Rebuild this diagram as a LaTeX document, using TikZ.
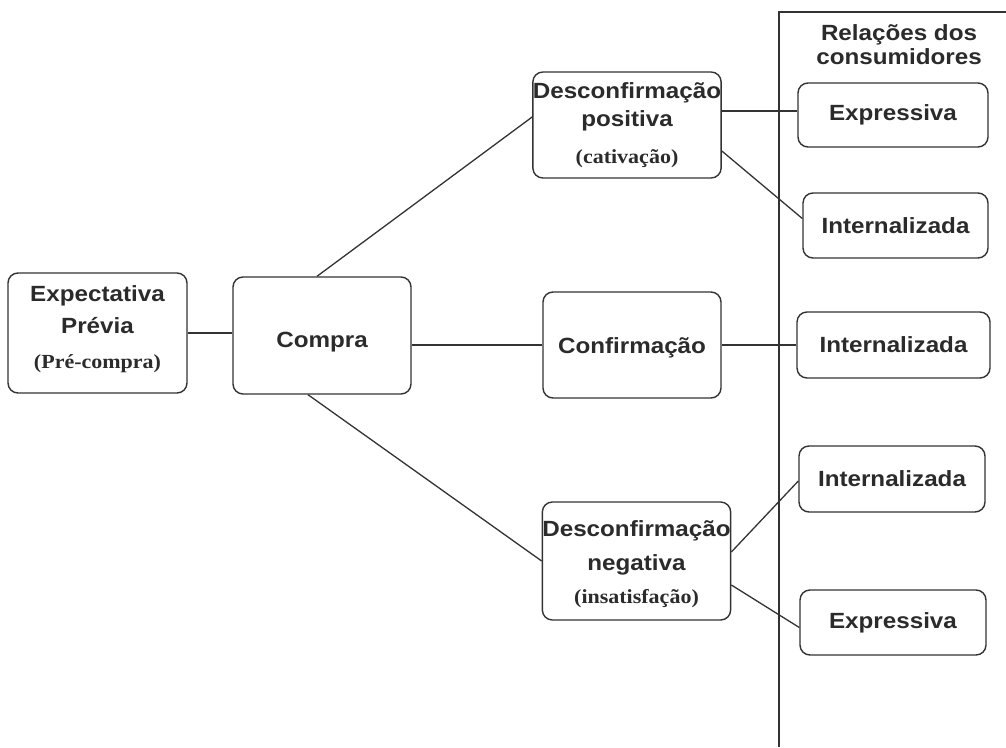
\documentclass[tikz,border=0pt]{standalone}
\usepackage{fontspec}
\setmainfont{Liberation Serif}
\newfontfamily\hv[FakeStretch=1.1]{Liberation Sans}
\newfontfamily\tm[FakeStretch=1.1]{Liberation Serif}
\definecolor{ink}{HTML}{333333}
\definecolor{txt}{HTML}{2B2B2B}
\newcommand{\sa}{\hv\bfseries\fontsize{22}{26}\selectfont}
\newcommand{\se}{\tm\bfseries\fontsize{20}{23}\selectfont}
\newcommand{\stk}[2]{\raisebox{#1}[0pt][0pt]{\begin{tabular}[t]{@{}c@{}}#2\end{tabular}}}
\newcommand{\one}[2]{\raisebox{#1}[0pt][0pt]{#2}}
\tikzset{
  box/.style={draw=ink, line width=1.4pt, rounded corners=10pt, inner sep=0pt,
    align=center, text=txt, font=\sa},
  link/.style={draw=ink, line width=1.3pt},
}
\begin{document}
\begin{tikzpicture}[x=1pt,y=-1pt]
\useasboundingbox (0,0) rectangle (1006,747);
\fill[white] (0,0) rectangle (1006,747);

% boxes
\node[box, minimum width=179pt, minimum height=120pt] (ep) at (97.5,333)
  {\stk{32pt}{Expectativa\\[6pt]Prévia\\[9pt]{\se (Pré-compra)}}};
\node[box, minimum width=178pt, minimum height=117pt] (cp) at (322,335.5)
  {\one{-12pt}{Compra}};
\node[box, minimum width=188pt, minimum height=106pt] (dp) at (627,125)
  {\stk{27pt}{Desconfirmação\\[2pt]positiva\\[11pt]{\se (cativação)}}};
\node[box, minimum width=178pt, minimum height=106pt] (cf) at (632,345)
  {\one{-8pt}{Confirmação}};
\node[box, minimum width=187pt, minimum height=118pt] (dn) at (636.5,561)
  {\stk{25pt}{Desconfirmação\\[8pt]negativa\\[7pt]{\se (insatisfação)}}};
\node[box, minimum width=190pt, minimum height=64pt] (e1) at (893,115) {Expressiva};
\node[box, minimum width=185pt, minimum height=65pt] (i1) at (895.5,225.5) {Internalizada};
\node[box, minimum width=193pt, minimum height=66pt] (i2) at (893.5,345) {Internalizada};
\node[box, minimum width=186pt, minimum height=66pt] (i3) at (892,479) {Internalizada};
\node[box, minimum width=186pt, minimum height=65pt] (e2) at (893,622.5) {Expressiva};

% panel
\coordinate (pt) at (779,12);
\coordinate (pr) at (1006,12);
\coordinate (pb) at (779,747);
\draw[link] (pr) -- (pt) -- (pb);
\node[align=center, text=txt, font=\sa, inner sep=0pt] (hd) at (899,45)
  {Relações dos\\[-2pt]consumidores};

% connectors
\draw[link] (ep.east) -- (ep.east -| cp.west);
\draw[link] ([xshift=-5pt]cp.north) -- ([yshift=8pt]dp.west);
\draw[link] ([xshift=-14pt]cp.south) -- (dn.west);
\draw[link] (cf.west -| cp.east) -- (cf.west);
\draw[link] (cf.east) -- (cf.east -| i2.west);
\draw[link] ([yshift=14pt]dp.east) -- ([yshift=14pt]dp.east -| e1.west);
\draw[link] ([yshift=-26pt]dp.east) -- ([yshift=7pt]i1.west);
\draw[link] ([yshift=9pt]dn.east) -- ([yshift=-2pt]i3.west);
\draw[link] ([yshift=-24pt]dn.east) -- ([yshift=-5pt]e2.west);
\end{tikzpicture}
\end{document}
